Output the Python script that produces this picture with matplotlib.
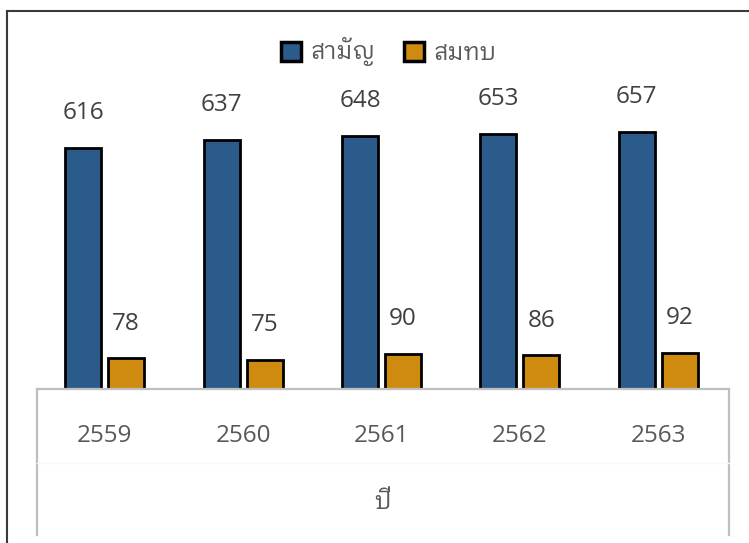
import matplotlib
matplotlib.use('Agg')
import matplotlib.pyplot as plt
from matplotlib.lines import Line2D
import numpy as np

# Open Sans for the digits, a looped Thai face for the Thai glyphs
plt.rcParams['font.family'] = ['Open Sans', 'IBM Plex Sans Thai Looped', 'Sarabun', 'DejaVu Sans']

years = ['2559', '2560', '2561', '2562', '2563']
samanya = [616, 637, 648, 653, 657]
somtob = [78, 75, 90, 86, 92]
series_names = ['สามัญ', 'สมทบ']
axis_title = 'ปี'

BLUE = '#2a5b8b'
ORANGE = '#cf8b0f'
GRID = '#bfbfbf'
TXT = '#595959'
LBL = '#404040'
FS = 17.5

W, H = 749, 543
fig = plt.figure(figsize=(W / 100, H / 100), dpi=100)

# axes: x from ~35px to ~727px, baseline at 389px from top
ax = fig.add_axes([35.5 / W, (H - 389) / H, 692 / W, 329 / H])
x = np.arange(len(years))
bw = 0.26
off = 0.155

b1 = ax.bar(x - off, samanya, bw, color=BLUE, edgecolor='black', linewidth=2, label=series_names[0], zorder=3)
b2 = ax.bar(x + off, somtob, bw, color=ORANGE, edgecolor='black', linewidth=2, label=series_names[1], zorder=3)

for bars, vals in ((b1, samanya), (b2, somtob)):
    for bar, v in zip(bars, vals):
        ax.annotate(f'{v}', (bar.get_x() + bar.get_width() / 2, v),
                    xytext=(0, 25), textcoords='offset points',
                    ha='center', va='center', fontsize=FS, color=LBL)

ax.set_xlim(-0.5, len(years) - 0.5)
ax.set_ylim(0, 841)
for s in ax.spines.values():
    s.set_visible(False)
ax.set_yticks([])
ax.set_xticks(x, years)
ax.tick_params(axis='x', length=0, pad=25, labelsize=FS, labelcolor=TXT)

# category axis frame
fig.add_artist(Line2D([37 / W, 729 / W], [(H - 389) / H] * 2, color=GRID, lw=1.6))
fig.add_artist(Line2D([37 / W] * 2, [(H - 389) / H, (H - 535) / H], color=GRID, lw=1.6))
fig.add_artist(Line2D([729 / W] * 2, [(H - 389) / H, (H - 535) / H], color=GRID, lw=1.6))
fig.add_artist(Line2D([37 / W, 729 / W], [(H - 463) / H] * 2, color='#f8f8f8', lw=1))

fig.text(383 / W, 1 - 503 / H, axis_title, ha='center', va='center', fontsize=FS, color=TXT)

leg = ax.legend(loc='center', bbox_to_anchor=(389 / W, 1 - 52 / H), bbox_transform=fig.transFigure,
                ncol=2, frameon=False, fontsize=17, handlelength=0.85, handleheight=0.85,
                handletextpad=0.4, columnspacing=1.2, labelcolor=TXT)
for p in leg.get_patches():
    p.set_linewidth(2.5)

# outer chart border (top and left visible)
fig.add_artist(Line2D([7 / W, 1], [1 - 11 / H] * 2, color='#3a3a3a', lw=1.5))
fig.add_artist(Line2D([7 / W] * 2, [0, 1 - 11 / H], color='#3a3a3a', lw=1.5))

fig.savefig('out.png', dpi=100, facecolor='white')
